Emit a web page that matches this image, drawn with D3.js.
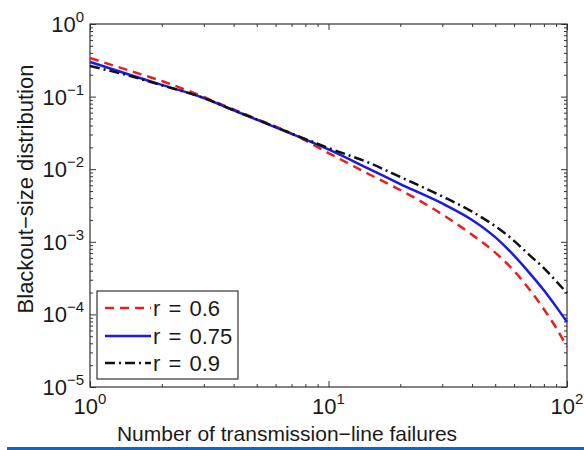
<!DOCTYPE html>
<html>
<head>
<meta charset="utf-8">
<script src="https://cdn.jsdelivr.net/npm/d3@7"></script>
<style>
  body { margin: 0; background: #fff; }
  svg text { font-family: "Liberation Sans", Arial, sans-serif; fill: #1a1a1a; }
</style>
</head>
<body>
<div id="chart"></div>
<script>
// data
const failures = [1, 1.5, 2, 3, 4, 5, 7, 10, 15, 20, 30, 40, 50, 60, 70, 80, 90, 100];
const r06  = [0.34, 0.222, 0.164, 0.0988, 0.0664, 0.0491, 0.031, 0.0167, 0.00832, 0.00517, 0.00238, 0.00125, 0.00071, 0.000398, 0.000215, 0.000118, 0.0000655, 0.0000356];
const r075 = [0.30, 0.195, 0.145, 0.0957, 0.0648, 0.0481, 0.0307, 0.0187, 0.00987, 0.00625, 0.00338, 0.002, 0.00116, 0.000645, 0.000365, 0.000215, 0.000128, 0.0000786];
const r09  = [0.264, 0.189, 0.143, 0.0957, 0.065, 0.0485, 0.031, 0.0196, 0.012, 0.00781, 0.00422, 0.0026, 0.00164, 0.00103, 0.000645, 0.000435, 0.000287, 0.000197];
const seriesNames = ['r = 0.6', 'r = 0.75', 'r = 0.9'];
const xTickExp = [0, 1, 2];
const yTickExp = [0, -1, -2, -3, -4, -5];

const width = 584, height = 450;
const margin = {top: 24, right: 17, bottom: 63, left: 90};

const svg = d3.select('#chart').append('svg')
  .attr('width', width)
  .attr('height', height);

const x = d3.scaleLog().domain([1, 100]).range([margin.left, width - margin.right]);
const y = d3.scaleLog().domain([1e-5, 1]).range([height - margin.bottom, margin.top]);

const x0 = x.range()[0], x1 = x.range()[1];
const y0 = y.range()[0], y1 = y.range()[1];

// ticks: decades are major, the rest minor
const isDecade = v => Math.abs(Math.log10(v) - Math.round(Math.log10(v))) < 1e-9;
const xMinor = x.ticks().filter(v => !isDecade(v));
const yMinor = y.ticks().filter(v => !isDecade(v));
const xMajor = xTickExp.map(e => Math.pow(10, e));
const yMajor = yTickExp.map(e => Math.pow(10, e));

const axes = svg.append('g').attr('class', 'axes');
const tickAxis = (gen, tr) => {
  const g = axes.append('g').attr('transform', tr).call(gen);
  g.select('.domain').remove();
  g.selectAll('line').attr('stroke', '#333').attr('stroke-width', 1);
  return g;
};
// inward ticks on all four sides
tickAxis(d3.axisBottom(x).tickValues(xMinor).tickSize(-3).tickFormat(''), `translate(0,${y0})`);
tickAxis(d3.axisBottom(x).tickValues(xMajor).tickSize(-6).tickFormat(''), `translate(0,${y0})`);
tickAxis(d3.axisTop(x).tickValues(xMinor).tickSize(-3).tickFormat(''), `translate(0,${y1})`);
tickAxis(d3.axisTop(x).tickValues(xMajor).tickSize(-6).tickFormat(''), `translate(0,${y1})`);
tickAxis(d3.axisLeft(y).tickValues(yMinor).tickSize(-3).tickFormat(''), `translate(${x0},0)`);
tickAxis(d3.axisLeft(y).tickValues(yMajor).tickSize(-6).tickFormat(''), `translate(${x0},0)`);
tickAxis(d3.axisRight(y).tickValues(yMinor).tickSize(-3).tickFormat(''), `translate(${x1},0)`);
tickAxis(d3.axisRight(y).tickValues(yMajor).tickSize(-6).tickFormat(''), `translate(${x1},0)`);

axes.append('rect')
  .attr('x', x0).attr('y', y1)
  .attr('width', x1 - x0).attr('height', y0 - y1)
  .attr('fill', 'none').attr('stroke', '#333').attr('stroke-width', 1.2);

// tick labels: 10 with superscript exponent
const powLabel = (g, e) => {
  const t = g.append('text').style('font-size', '22px');
  t.append('tspan').text('10');
  t.append('tspan').attr('dy', -10).style('font-size', '15px').text(e < 0 ? '\u2212' + (-e) : e);
  return t;
};
yTickExp.forEach(e => {
  const g = svg.append('g').attr('transform', `translate(${x0 - 6},${y(Math.pow(10, e)) + 8})`);
  powLabel(g, e).attr('text-anchor', 'end');
});
xTickExp.forEach(e => {
  const g = svg.append('g').attr('transform', `translate(${x(Math.pow(10, e))},${y0 + 27})`);
  powLabel(g, e).attr('text-anchor', 'middle');
});

// axis titles
svg.append('text')
  .attr('x', 287).attr('y', 441)
  .attr('text-anchor', 'middle')
  .style('font-size', '21px')
  .text('Number of transmission\u2212line failures');

svg.append('text')
  .attr('transform', 'translate(33,189) rotate(-90)')
  .attr('text-anchor', 'middle')
  .style('font-size', '22px')
  .text('Blackout\u2212size distribution');

// curves
const series = [
  {name: seriesNames[0], values: r06,  color: '#e5201f', dash: '9,6'},
  {name: seriesNames[1], values: r075, color: '#1a1ae0', dash: null},
  {name: seriesNames[2], values: r09,  color: '#111111', dash: '10,4,2,4'}
];

const line = d3.line()
  .x((d, i) => x(failures[i]))
  .y(d => y(d))
  .curve(d3.curveMonotoneX);

svg.append('g').selectAll('path.curve')
  .data(series)
  .enter().append('path')
    .attr('class', 'curve')
    .attr('d', d => line(d.values))
    .attr('fill', 'none')
    .attr('stroke', d => d.color)
    .attr('stroke-width', 2.5)
    .attr('stroke-dasharray', d => d.dash);

// legend
const legend = svg.append('g');
legend.append('rect')
  .attr('x', 97).attr('y', 291)
  .attr('width', 141).attr('height', 88)
  .attr('fill', '#fff').attr('stroke', '#333').attr('stroke-width', 1.2);
const rowY = [308, 336, 363];
series.forEach((s, i) => {
  legend.append('line')
    .attr('x1', 105).attr('x2', 151)
    .attr('y1', rowY[i]).attr('y2', rowY[i])
    .attr('stroke', s.color).attr('stroke-width', 2.5)
    .attr('stroke-dasharray', s.dash);
  legend.append('text')
    .attr('x', 153).attr('y', rowY[i] + 8)
    .style('font-size', '22px')
    .style('word-spacing', '2px')
    .text(s.name);
});

// blue strip along the bottom
svg.append('rect')
  .attr('x', 7).attr('y', 447)
  .attr('width', width - 7).attr('height', 3)
  .attr('fill', '#1565c0');
</script>
</body>
</html>
